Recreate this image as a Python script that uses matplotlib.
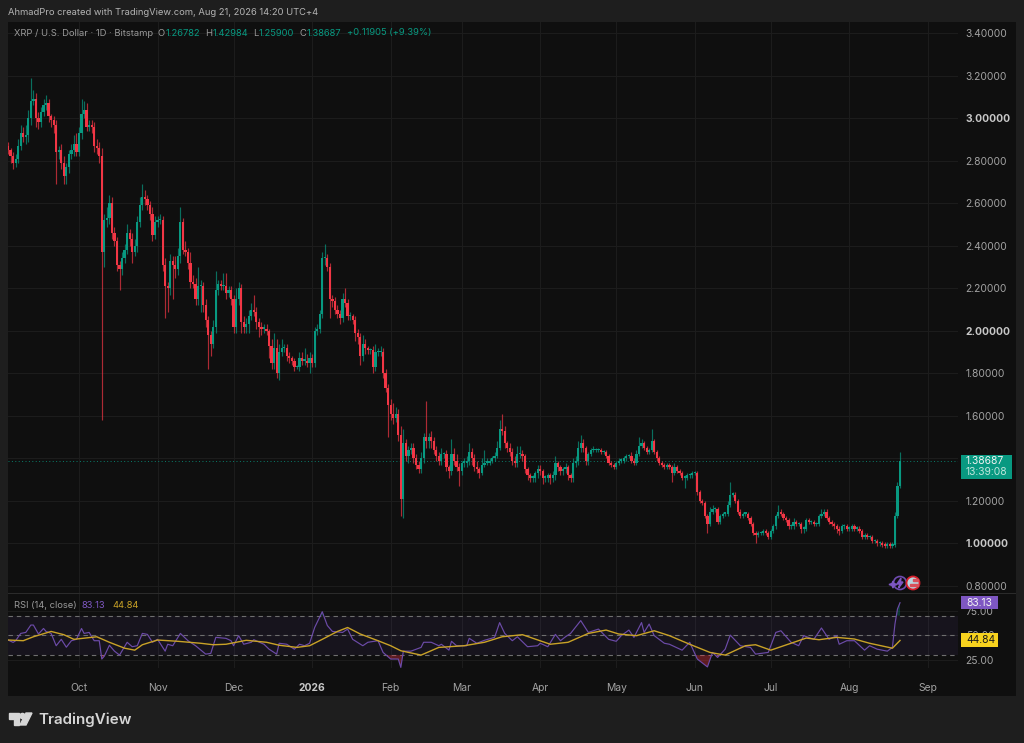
"""XRP / U.S. Dollar daily candles with RSI pane, TradingView dark layout."""

import matplotlib
matplotlib.use("Agg")
import matplotlib.dates as mdates
import matplotlib.pyplot as plt
import numpy as np
import pandas as pd
from matplotlib.patches import Circle, Polygon, Rectangle

W, H = 1024, 743

start_date = "2025-09-03"
first_open = 2.87

# daily closes
closes = [
    2.85, 2.82, 2.79, 2.81, 2.87, 2.93, 2.91, 2.92, 3.00, 3.08,
    3.09, 3.00, 2.98, 3.03, 3.06, 3.07, 3.01, 2.99, 2.97, 2.84,
    2.85, 2.79, 2.73, 2.77, 2.83, 2.85, 2.88, 2.84, 2.93, 3.02,
    3.04, 2.96, 2.97, 2.96, 2.87, 2.86, 2.82, 2.37, 2.52, 2.53,
    2.60, 2.46, 2.42, 2.31, 2.29, 2.34, 2.38, 2.46, 2.43, 2.37,
    2.40, 2.51, 2.59, 2.63, 2.62, 2.59, 2.55, 2.45, 2.51, 2.52,
    2.52, 2.31, 2.21, 2.20, 2.33, 2.31, 2.29, 2.35, 2.51, 2.38,
    2.37, 2.32, 2.23, 2.22, 2.15, 2.21, 2.21, 2.12, 2.05, 1.98,
    1.94, 2.02, 2.19, 2.22, 2.21, 2.21, 2.18, 2.19, 2.15, 2.02,
    2.15, 2.20, 2.04, 2.02, 2.03, 2.07, 2.10, 2.09, 2.04, 2.02,
    2.01, 2.01, 2.00, 1.93, 1.85, 1.92, 1.80, 1.90, 1.92, 1.92,
    1.88, 1.87, 1.86, 1.83, 1.83, 1.87, 1.86, 1.86, 1.85, 1.87,
    1.85, 2.00, 2.01, 2.08, 2.34, 2.34, 2.30, 2.15, 2.14, 2.10,
    2.08, 2.06, 2.15, 2.13, 2.07, 2.07, 2.05, 1.99, 1.97, 1.88,
    1.94, 1.92, 1.91, 1.91, 1.83, 1.90, 1.90, 1.90, 1.80, 1.73,
    1.65, 1.61, 1.59, 1.61, 1.51, 1.21, 1.47, 1.41, 1.44, 1.45,
    1.40, 1.37, 1.35, 1.40, 1.50, 1.48, 1.50, 1.48, 1.44, 1.41,
    1.39, 1.42, 1.42, 1.36, 1.34, 1.42, 1.39, 1.36, 1.34, 1.38,
    1.38, 1.39, 1.43, 1.40, 1.36, 1.35, 1.33, 1.37, 1.38, 1.38,
    1.39, 1.40, 1.41, 1.45, 1.54, 1.53, 1.47, 1.45, 1.43, 1.39,
    1.38, 1.42, 1.42, 1.41, 1.35, 1.32, 1.31, 1.31, 1.33, 1.35,
    1.34, 1.31, 1.31, 1.32, 1.31, 1.32, 1.38, 1.36, 1.34, 1.35,
    1.36, 1.32, 1.31, 1.38, 1.39, 1.45, 1.47, 1.45, 1.39, 1.42,
    1.44, 1.44, 1.44, 1.44, 1.43, 1.43, 1.41, 1.38, 1.37, 1.36,
    1.38, 1.39, 1.39, 1.40, 1.41, 1.41, 1.39, 1.38, 1.42, 1.46,
    1.47, 1.45, 1.43, 1.44, 1.48, 1.43, 1.40, 1.38, 1.37, 1.36,
    1.37, 1.36, 1.33, 1.36, 1.34, 1.33, 1.31, 1.31, 1.32, 1.32,
    1.33, 1.33, 1.24, 1.20, 1.19, 1.13, 1.09, 1.15, 1.16, 1.16,
    1.10, 1.13, 1.14, 1.14, 1.18, 1.23, 1.23, 1.20, 1.15, 1.13,
    1.14, 1.14, 1.12, 1.09, 1.05, 1.04, 1.05, 1.05, 1.06, 1.05,
    1.03, 1.06, 1.08, 1.13, 1.15, 1.14, 1.12, 1.11, 1.08, 1.08,
    1.10, 1.09, 1.09, 1.07, 1.07, 1.11, 1.10, 1.10, 1.09, 1.09,
    1.13, 1.14, 1.15, 1.12, 1.10, 1.09, 1.08, 1.07, 1.06, 1.08,
    1.08, 1.07, 1.07, 1.08, 1.07, 1.07, 1.06, 1.03, 1.04, 1.03,
    1.03, 1.01, 1.01, 1.00, 1.00, 0.995, 0.99, 0.995, 0.99, 0.995,
    1.13, 1.26782, 1.38687,
]

# wick lengths above / below the body, in cents
upper_wicks = [
    2, 1, 2, 2, 3, 4, 3, 5, 4, 11,
    4, 3, 3, 2, 3, 4, 2, 1, 2, 2,
    2, 3, 3, 2, 2, 3, 4, 5, 3, 7,
    4, 3, 2, 2, 2, 3, 3, 4, 3, 5,
    4, 3, 3, 2, 2, 3, 3, 4, 2, 3,
    3, 3, 4, 6, 3, 2, 2, 3, 3, 2,
    3, 2, 3, 2, 3, 2, 4, 4, 7, 2,
    4, 2, 5, 3, 3, 9, 3, 2, 3, 2,
    2, 3, 9, 2, 2, 6, 6, 2, 2, 2,
    5, 3, 2, 3, 3, 3, 3, 7, 2, 2,
    2, 2, 2, 1, 3, 7, 4, 4, 4, 2,
    2, 2, 1, 1, 1, 3, 3, 6, 3, 3,
    2, 2, 2, 2, 3, 7, 2, 2, 2, 2,
    2, 2, 3, 5, 2, 2, 1, 2, 2, 2,
    4, 2, 1, 1, 2, 4, 2, 3, 2, 2,
    2, 3, 5, 3, 2, 4, 7, 2, 2, 2,
    2, 2, 2, 3, 2, 17, 2, 3, 2, 2,
    2, 3, 1, 2, 1, 7, 3, 3, 2, 1,
    2, 2, 4, 2, 2, 3, 1, 3, 6, 2,
    1, 1, 2, 3, 4, 7, 2, 1, 2, 2,
    2, 4, 4, 2, 1, 1, 1, 1, 1, 2,
    2, 1, 1, 1, 1, 2, 3, 1, 1, 1,
    2, 1, 1, 2, 2, 3, 4, 2, 1, 1,
    1, 2, 1, 1, 1, 1, 1, 1, 1, 1,
    1, 1, 1, 1, 1, 1, 2, 1, 2, 4,
    2, 1, 1, 1, 6, 1, 1, 1, 1, 1,
    1, 1, 1, 2, 1, 1, 1, 1, 1, 1,
    1, 1, 1, 1, 1, 1, 1, 2, 2, 1,
    1, 1, 1, 1, 2, 6, 1, 1, 1, 1,
    1, 1, 1, 1, 1, 1, 1, 1, 1, 1,
    1, 1, 1, 1, 3, 1, 1, 1, 1, 1,
    2, 1, 1, 1, 1, 1, 1, 1, 1, 1,
    1, 2, 1, 1, 1, 1, 1, 1, 1, 1,
    1, 1, 1, 1, 1, 1, 1, 1, 1, 1,
    1, 1, 1, 1, 1, 1, 1, 1, 1, 1,
    2, 2, 4.297,
]
lower_wicks = [
    2, 3, 3, 2, 2, 2, 2, 3, 3, 3,
    2, 4, 3, 2, 2, 2, 3, 3, 4, 15,
    3, 3, 4, 4, 3, 2, 3, 2, 2, 3,
    2, 2, 2, 3, 3, 3, 3, 79, 7, 3,
    3, 3, 2, 3, 10, 3, 2, 2, 3, 5,
    2, 3, 2, 2, 3, 2, 3, 3, 2, 2,
    2, 3, 15, 11, 3, 16, 4, 3, 3, 2,
    2, 3, 3, 2, 3, 3, 12, 3, 3, 16,
    6, 2, 3, 2, 2, 2, 3, 2, 3, 3,
    3, 3, 5, 3, 3, 4, 2, 2, 3, 5,
    3, 2, 2, 6, 3, 3, 2, 3, 2, 2,
    2, 2, 2, 2, 1, 2, 2, 2, 2, 5,
    2, 2, 2, 2, 2, 3, 2, 9, 3, 2,
    2, 3, 2, 2, 2, 2, 2, 4, 3, 4,
    2, 3, 2, 2, 3, 2, 2, 2, 2, 2,
    15, 3, 3, 2, 3, 8, 9, 2, 3, 2,
    2, 2, 2, 2, 2, 3, 3, 3, 2, 2,
    2, 2, 2, 2, 3, 2, 2, 2, 7, 2,
    2, 2, 2, 3, 2, 2, 2, 1, 1, 1,
    1, 1, 1, 1, 1, 2, 2, 2, 2, 2,
    2, 2, 2, 2, 2, 2, 2, 2, 2, 2,
    2, 3, 2, 2, 3, 2, 2, 2, 2, 2,
    2, 2, 2, 2, 2, 2, 2, 2, 2, 2,
    1, 1, 1, 1, 1, 1, 1, 1, 1, 1,
    1, 1, 1, 1, 1, 1, 1, 1, 1, 1,
    1, 1, 1, 1, 1, 1, 1, 1, 1, 1,
    1, 1, 4, 1, 1, 1, 1, 5, 1, 1,
    1, 1, 1, 1, 1, 1, 4, 1, 1, 1,
    1, 1, 1, 1, 1, 1, 1, 1, 1, 1,
    1, 1, 1, 1, 1, 4, 1, 1, 1, 1,
    1, 1, 1, 1, 1, 1, 1, 1, 1, 1,
    1, 1, 1, 2, 2, 1, 1, 1, 1, 1,
    1, 1, 1, 1, 1, 1, 1, 2, 2, 1,
    1, 1, 1, 1, 1, 1, 1, 1, 1, 1,
    1, 1, 1, 1, 1, 1, 1, 1, 1, 1,
    1, 1, 0.882,
]

# RSI, sampled at turning points (day number from start_date)
rsi_days = [
    0, 2, 3, 5, 7, 9, 10, 12, 14, 15, 17, 19, 21, 23, 25, 27, 29, 30, 32, 34,
    36, 37, 38, 40, 42, 44, 47, 49, 51, 53, 55, 57, 59, 62, 63, 65, 68, 71, 74, 78,
    80, 82, 86, 88, 89, 91, 93, 96, 97, 101, 103, 106, 107, 110, 113, 115, 117, 119, 121, 124,
    126, 128, 132, 134, 136, 140, 142, 146, 148, 151, 154, 155,
    156, 159, 163, 164, 167, 170, 171, 174, 175, 177, 181, 182, 185, 188, 192, 194, 196, 199, 201, 205,
    209, 210, 213, 216, 218, 220, 222, 226, 229, 233, 237, 240, 242, 245, 247, 250, 251, 253, 255, 259,
    261, 266, 269, 272, 276, 278, 280, 283, 285, 289, 293, 295, 300, 303, 305, 309, 312, 314, 318, 321,
    324, 327, 328, 331, 334, 338, 340, 343, 347, 349, 350, 351, 352,
]
rsi_values = [
    45.3, 42.9, 44.6, 52, 53, 60.5, 60.5, 51.4, 57, 54, 52, 39.5, 46, 38, 44.6, 46, 57, 52, 53, 44.6,
    44.6, 26, 29, 40, 34, 30, 43, 38.5, 39.5, 52, 51, 43, 46, 34, 41, 39.5, 52, 44.6, 39.5, 31,
    31.7, 48, 47, 44.6, 39.5, 49.7, 41, 43, 45.6, 41, 36, 31, 42, 41, 36, 41, 39.5, 42, 58, 74,
    60, 54, 53, 56.4, 46, 39.5, 43, 44.6, 32.7, 26, 26, 17.5,
    34, 34, 37.8, 43, 43, 39.5, 41, 35, 44, 39.5, 39.5, 47, 42, 45, 48, 63, 52, 44.6, 48.6, 38.5,
    39.5, 42, 38.5, 51, 44.6, 48.6, 52, 65, 53, 56.4, 46, 44, 49.7, 55.4, 48, 63, 53, 61.5, 49.7, 42,
    41, 35, 43, 26, 18, 32.7, 27.6, 36, 50.3, 39.5, 37.8, 31, 32.7, 53, 54.7, 43, 39.5, 49.7, 46, 57.5,
    46, 49.7, 41, 44.6, 44.6, 35, 39.5, 36, 34, 37.8, 61.5, 76.8, 83.13,
]

rsi_ma_days = [
    0, 6, 10, 17, 22, 26, 35, 40, 46, 50, 53, 59, 67, 76, 81, 86, 94, 102, 107, 114,
    119, 124, 130, 134, 139, 146, 151, 155, 163, 170, 180, 188, 195, 203, 214, 221, 229, 236, 241, 248,
    255, 261, 269, 277, 283, 291, 295, 301, 315, 320, 327, 334, 340, 349, 352,
]
rsi_ma_values = [
    45.3, 44.6, 48.6, 54, 50.7, 46, 48.6, 43, 37, 35, 40.5, 45.3, 44, 42, 40.5, 41, 45, 43, 40, 37.8,
    39.5, 46, 54, 58, 51.4, 44.6, 39.5, 34.4, 30, 37.8, 39.5, 43, 48.6, 50.7, 41, 43, 52, 55.4, 51.4, 49.7,
    54.7, 49.7, 41, 32.7, 30, 39.5, 40.5, 35, 47.3, 45.6, 48, 46.3, 42, 37, 44.84,
]

price_ticks = [0.8, 1.0, 1.2, 1.4, 1.6, 1.8, 2.0, 2.2, 2.4, 2.6, 2.8, 3.0, 3.2, 3.4]
rsi_ticks = [25, 50, 75]
month_ticks = ["2025-10-01", "2025-11-01", "2025-12-01", "2026-01-01", "2026-02-01", "2026-03-01",
               "2026-04-01", "2026-05-01", "2026-06-01", "2026-07-01", "2026-08-01", "2026-09-01"]
month_labels = ["Oct", "Nov", "Dec", "2026", "Feb", "Mar", "Apr", "May", "Jun", "Jul", "Aug", "Sep"]

UP = "#089981"
DOWN = "#F23645"
PAGE = "#1e1e1e"
PANEL = "#0f0f0f"
GRID = "#1c1c1c"
LABEL = "#a3a3a3"
PURPLE = "#7E57C2"
RSI_LINE = "#6C4BA8"
YELLOW = "#C9A227"

plt.rcParams["font.family"] = ["Inter", "DejaVu Sans"]
plt.rcParams["font.size"] = 7.4
SMALL = 6.75


def fx(px):
    return px / W


def fy(py):
    return 1 - py / H


def pixel_axes(fig, left, top, right, bottom):
    return fig.add_axes([fx(left), fy(bottom), (right - left) / W, (bottom - top) / H])


def box(fig, left, top, right, bottom, color, zorder=5):
    fig.add_artist(Rectangle((fx(left), fy(bottom)), (right - left) / W, (bottom - top) / H,
                             transform=fig.transFigure, facecolor=color, edgecolor="none", zorder=zorder))


def label(fig, px, py, text, color=LABEL, ha="left", fontsize=SMALL, **kw):
    fig.text(fx(px), fy(py), text, color=color, ha=ha, va="center", zorder=6, fontsize=fontsize, **kw)


fig = plt.figure(figsize=(W / 100, H / 100), dpi=100, facecolor=PAGE)
box(fig, 8, 22, 1016, 696, PANEL, zorder=-1)

ax = pixel_axes(fig, 8, 22, 958, 593)
ax_rsi = pixel_axes(fig, 8, 594, 958, 668)

dates = pd.date_range(start_date, periods=len(closes), freq="D")
close = np.array(closes)
opens = np.concatenate([[first_open], close[:-1]])
top = np.maximum(opens, close)
bottom = np.minimum(opens, close)
highs = top + np.array(upper_wicks) / 100
lows = bottom - np.array(lower_wicks) / 100
colors = np.where(close >= opens, UP, DOWN)

# one pixel of chart width is 1 / 2.534 days, Oct 1 sits at x = 79
oct1 = mdates.date2num(pd.Timestamp("2025-10-01"))
xlim = (oct1 - 71 / 2.534, oct1 + 879 / 2.534)

for a in (ax, ax_rsi):
    a.set_facecolor(PANEL)
    a.set_xlim(xlim)
    for side in a.spines:
        a.spines[side].set_visible(False)
    a.set_xticks(pd.to_datetime(month_ticks))
    a.grid(True, color=GRID, linewidth=0.8)
    a.set_axisbelow(True)
    a.yaxis.tick_right()

# candles
ax.vlines(dates, lows, highs, colors=colors, linewidth=0.85, alpha=0.7, zorder=3)
ax.bar(dates, np.maximum(top - bottom, 0.006), bottom=bottom, width=0.88, color=colors, linewidth=0, zorder=4)
ax.axhline(closes[-1], color=UP, linewidth=0.7, linestyle=(0, (1, 2.5)), alpha=0.8, zorder=2)

ax.set_ylim(0.767, 3.452)
ax.set_yticks(price_ticks)
# the 1.40000 label sits fully under the last-price flag
ax.set_yticklabels(["" if p == 1.4 else f"{p:.5f}" for p in price_ticks])
ax.tick_params(axis="y", length=0, pad=5.5, labelcolor=LABEL)
ax.tick_params(axis="x", length=0, labelbottom=False)
for tick, p in zip(ax.get_yticklabels(), price_ticks):
    if p in (1.0, 2.0, 3.0):
        tick.set_fontweight("bold")
        tick.set_color("#c8c8c8")

# RSI pane
days = pd.to_datetime(start_date) + pd.to_timedelta(rsi_days, unit="D")
ma_days = pd.to_datetime(start_date) + pd.to_timedelta(rsi_ma_days, unit="D")
rsi = np.array(rsi_values)

ax_rsi.axhspan(30, 70, color=PURPLE, alpha=0.08, linewidth=0, zorder=1)
for level in (30, 50, 70):
    ax_rsi.axhline(level, color="#6e6e6e", linewidth=0.8, linestyle=(0, (4, 3.5)), zorder=2)
ax_rsi.fill_between(days, rsi, 30, where=rsi < 30, interpolate=True, color=DOWN, alpha=0.35, linewidth=0, zorder=2)
ax_rsi.fill_between(days, rsi, 70, where=rsi > 70, interpolate=True, color=UP, alpha=0.3, linewidth=0, zorder=2)
ax_rsi.plot(days, rsi, color=RSI_LINE, linewidth=0.85, zorder=3)
ax_rsi.plot(ma_days, rsi_ma_values, color=YELLOW, linewidth=1.0, zorder=4)

ax_rsi.set_ylim(16.9, 92)
ax_rsi.set_yticks(rsi_ticks)
ax_rsi.set_yticklabels([f"{t:.2f}" for t in rsi_ticks])
ax_rsi.tick_params(axis="y", length=0, pad=5.5, labelcolor=LABEL)
ax_rsi.set_xticklabels(month_labels)
ax_rsi.tick_params(axis="x", length=0, pad=11, labelcolor=LABEL)
ax_rsi.get_xticklabels()[3].set_fontweight("bold")
ax_rsi.get_xticklabels()[3].set_color("#c8c8c8")

# pane divider
box(fig, 8, 593, 1016, 594, "#2b2b2b", zorder=2)

# header and legends
label(fig, 8, 12.5, "AhmadPro created with TradingView.com, Aug 21, 2026 14:20 UTC+4", color="#b4b4b4")
label(fig, 14, 33, "XRP / U.S. Dollar · 1D · Bitstamp", color="#9a9a9a")
for px, text, color in [
    (158, "O", "#9a9a9a"), (166, "1.26782", UP),
    (205, "H", "#9a9a9a"), (213, "1.42984", UP),
    (253, "L", "#9a9a9a"), (259, "1.25900", UP),
    (300, "C", "#9a9a9a"), (307, "1.38687", UP),
    (347, "+0.11905 (+9.39%)", UP),
]:
    label(fig, px, 33, text, color=color)
label(fig, 14, 606, "RSI (14, close)", color="#9a9a9a")
label(fig, 82, 606, "83.13", color=PURPLE)
label(fig, 112, 606, "44.84", color=YELLOW)

# right-hand value flags
box(fig, 961, 455, 1012, 479, UP, zorder=5)
label(fig, 966, 461, "1.38687", color="#f2f2f2", fontsize=7.4)
label(fig, 966, 472, "13:39:08", color="#bfe6dc", fontsize=7.4)
box(fig, 961, 596, 998, 609, PURPLE, zorder=5)
label(fig, 966, 602.5, "83.13", color="#f2f2f2", fontsize=7.4)
box(fig, 961, 633, 998, 647, "#F7D21E", zorder=5)
label(fig, 966, 640, "44.84", color="#1a1a1a", fontsize=7.4)

# event markers
art = fig.add_axes([0, 0, 1, 1], facecolor="none", zorder=7)
art.set_xlim(0, W)
art.set_ylim(H, 0)
art.axis("off")
art.add_patch(Circle((900, 583), 6.5, facecolor=PANEL, edgecolor="#6f4bb0", linewidth=1.2))
art.add_patch(Polygon([(901, 578), (897, 584), (900, 584), (898.5, 588), (903, 582), (900.5, 582)], color="#7E57C2"))
art.add_patch(Polygon([(889, 584.5), (892, 583.5), (893, 581), (894, 583.5), (897, 584.5), (894, 585.5),
                       (893, 588), (892, 585.5)], color="#7E57C2"))
art.add_patch(Circle((913, 583), 6.5, facecolor="#b9d6df", edgecolor="#d8202c", linewidth=1.3))
art.add_patch(Rectangle((913, 579), 5, 2, color="#d8505a"))
art.add_patch(Rectangle((910, 584), 8, 2, color="#d8505a"))

# footer logo
logo = "#d6d6d6"
art.add_patch(Polygon([(9, 713), (19, 713), (19, 725), (14, 725), (14, 719), (9, 719)], color=logo))
art.add_patch(Circle((22.5, 716), 2.6, color=logo))
art.add_patch(Polygon([(26, 713), (32, 713), (26, 725), (20, 725)], color=logo))
label(fig, 38, 719.5, "TradingView", color=logo, fontsize=10.9, fontweight="semibold")

fig.savefig("out.png", dpi=100, facecolor=PAGE)
